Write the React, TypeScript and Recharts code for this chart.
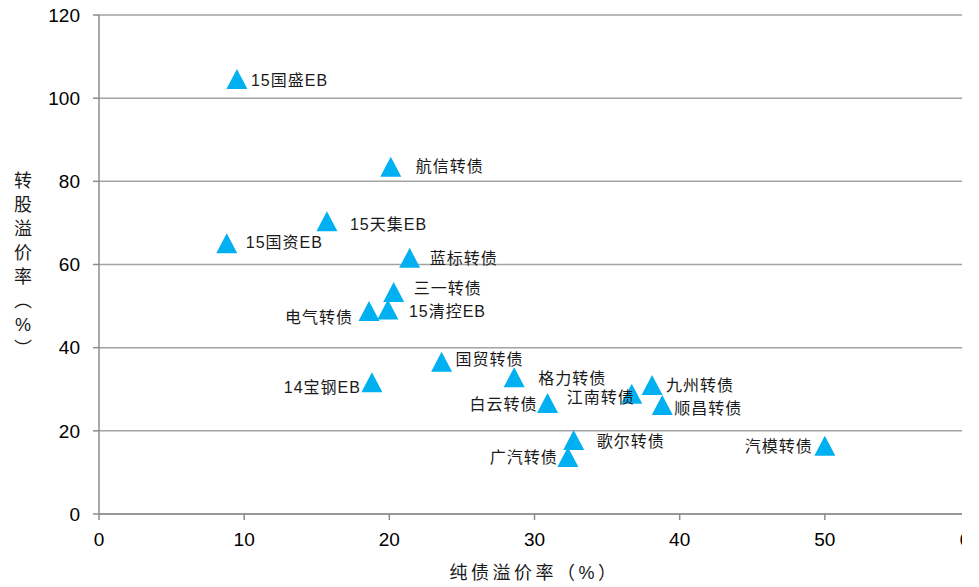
import { ScatterChart, Scatter, XAxis, YAxis, CartesianGrid } from 'recharts'

const NAMES = [
  '15国盛EB', '航信转债', '15天集EB', '15国资EB', '蓝标转债', '三一转债',
  '15清控EB', '电气转债', '国贸转债', '14宝钢EB', '格力转债', '白云转债',
  '江南转债', '九州转债', '顺昌转债', '歌尔转债', '广汽转债', '汽模转债',
]
// 纯债溢价率 (%)
const PURE_BOND_PREMIUM = [
  9.5, 20.1, 15.7, 8.8, 21.4, 20.3,
  19.9, 18.6, 23.6, 18.8, 28.6, 30.9,
  36.7, 38.1, 38.8, 32.7, 32.3, 50.0,
]
// 转股溢价率 (%)
const CONV_PREMIUM = [
  104.6, 83.5, 70.4, 65.1, 61.6, 53.4,
  49.2, 48.8, 36.6, 31.7, 32.9, 26.7,
  28.9, 31.0, 26.2, 17.8, 13.7, 16.4,
]
const X_TICKS = [0, 10, 20, 30, 40, 50, 60]
const Y_TICKS = [0, 20, 40, 60, 80, 100, 120]

// where each label sits relative to its marker: dx, dy, text-anchor
const LABEL_POS: Record<string, [number, number, 'start' | 'end']> = {
  '15国盛EB': [14, 1, 'start'],
  '航信转债': [25, 0, 'start'],
  '15天集EB': [23, 3, 'start'],
  '15国资EB': [19, -1, 'start'],
  '蓝标转债': [20, 1, 'start'],
  '三一转债': [20, -3, 'start'],
  '15清控EB': [21, 2, 'start'],
  '电气转债': [-16, 6, 'end'],
  '国贸转债': [14, -2, 'start'],
  '14宝钢EB': [-11, 5, 'end'],
  '格力转债': [24, 1, 'start'],
  '白云转债': [-10, 2, 'end'],
  '江南转债': [3, 4, 'end'],
  '九州转债': [14, 0, 'start'],
  '顺昌转债': [12, 3, 'start'],
  '歌尔转债': [23, 2, 'start'],
  '广汽转债': [-10, 0, 'end'],
  '汽模转债': [-12, 1, 'end'],
}

const data = NAMES.map((name, i) => ({ name, x: PURE_BOND_PREMIUM[i], y: CONV_PREMIUM[i] }))

const LATIN = "'Liberation Sans', Arial, 'Noto Sans CJK SC', sans-serif"
const CJK = "'Liberation Sans', 'Noto Sans CJK SC', sans-serif"
const GRID = '#a3a3a3'
const AXIS = '#8c8c8c'

function Triangle(props: any) {
  const { cx, cy } = props
  return (
    <polygon
      points={`${cx},${cy - 10} ${cx + 10.5},${cy + 10} ${cx - 10.5},${cy + 10}`}
      fill="#00B0F0"
    />
  )
}

function PointLabel(props: any) {
  const { cx, cy, payload } = props
  const [dx, dy, anchor] = LABEL_POS[payload.name] ?? [14, 0, 'start']
  return (
    <text
      x={cx + dx}
      y={cy + dy}
      textAnchor={anchor}
      dominantBaseline="central"
      fontSize={16}
      fontFamily={CJK}
      letterSpacing={1}
      fill="#1a1a1a"
    >
      {payload.name}
    </text>
  )
}

function YTitle(props: any) {
  const { viewBox } = props
  const mid = viewBox.y + viewBox.height / 2
  const chars = ['转', '股', '溢', '价', '率', '︵', '%', '︶']
  return (
    <text fontSize={18} fontFamily={CJK} fill="#1a1a1a" textAnchor="middle" dominantBaseline="central">
      {chars.map((c, i) => (
        <tspan key={i} x={viewBox.x + 23} y={mid + (i - 3.5) * 24}>{c}</tspan>
      ))}
    </text>
  )
}

function XTitle(props: any) {
  const { viewBox } = props
  return (
    <text
      x={viewBox.x + viewBox.width / 2}
      y={viewBox.y + 59}
      fontSize={18}
      fontFamily={CJK}
      letterSpacing={3.5}
      fill="#1a1a1a"
      textAnchor="middle"
      dominantBaseline="central"
    >
      纯债溢价率（%）
    </text>
  )
}

export default function App() {
  return (
    <div style={{ position: 'absolute', left: 0, top: 0, width: 962, height: 587, overflow: 'hidden', background: '#fff' }}>
      <ScatterChart width={980} height={587} margin={{ top: 15, right: 10, bottom: 0, left: 0 }}>
        <CartesianGrid vertical={false} stroke={GRID} strokeWidth={1.5} />
        <XAxis
          type="number"
          dataKey="x"
          domain={[0, 60]}
          ticks={X_TICKS}
          height={73}
          stroke={AXIS}
          strokeWidth={1.5}
          tickSize={6}
          tickMargin={13}
          tick={{ fontSize: 19, fill: '#000', fontFamily: LATIN }}
          label={{ content: XTitle }}
        />
        <YAxis
          type="number"
          dataKey="y"
          domain={[0, 120]}
          ticks={Y_TICKS}
          width={99}
          stroke={AXIS}
          strokeWidth={1.5}
          tickSize={6}
          tickMargin={13}
          tick={{ fontSize: 19, fill: '#000', fontFamily: LATIN }}
          label={{ content: YTitle }}
        />
        <Scatter data={data} shape={Triangle} isAnimationActive={false} />
        <Scatter data={data} shape={PointLabel} isAnimationActive={false} />
      </ScatterChart>
    </div>
  )
}
